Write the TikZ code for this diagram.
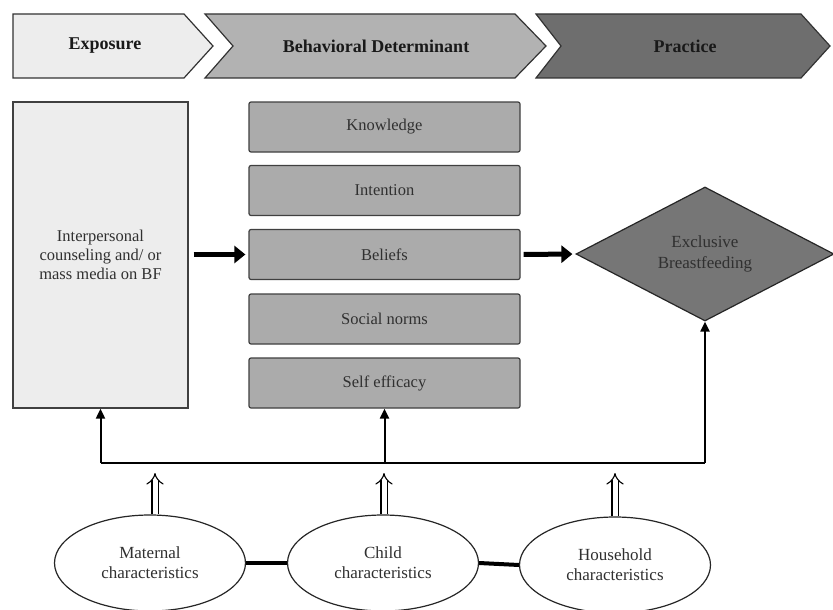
\documentclass[tikz,border=0pt]{standalone}
\usepackage{fontspec}
\setmainfont{Liberation Serif}
\usetikzlibrary{arrows.meta,shapes.geometric}
\definecolor{chevA}{HTML}{EDEDED}
\definecolor{chevB}{HTML}{B2B2B2}
\definecolor{chevC}{HTML}{6E6E6E}
\definecolor{leftfill}{HTML}{EDEDED}
\definecolor{detgray}{HTML}{ABABAB}
\definecolor{diagray}{HTML}{767676}
\definecolor{txt}{HTML}{303030}
\begin{document}
\begin{tikzpicture}[x=1pt,y=-1pt,
  chev/.style={draw=black!80, line width=1.2pt},
  title/.style={font=\bfseries\fontsize{18}{20}\selectfont, text=black!90},
  det/.style={draw=black!75, line width=1.2pt, fill=detgray, rounded corners=2pt,
    minimum width=271pt, minimum height=50pt, inner sep=0pt,
    font=\fontsize{16.5}{19}\selectfont, text=txt},
  oval/.style={ellipse, draw=black!85, line width=1.2pt, fill=white, minimum width=191pt,
    minimum height=96pt, inner sep=0pt, align=center,
    font=\fontsize{17}{20}\selectfont, text=txt},
  bigarrow/.style={line width=5pt, -{Triangle[length=11pt,width=17pt]}},
  thinarrow/.style={line width=2pt, -{Triangle[length=10pt,width=9pt]}},
  bus/.style={line width=2.5pt},
  hollow/.style={double=white, double distance=5pt, line width=1.1pt, -{Implies}},
  link/.style={line width=4pt}
]
\useasboundingbox (0,0) rectangle (833,610);

% chevrons
\fill[white] (0,0) rectangle (833,610);
\draw[chev, fill=chevA] (13,14) -- (184,14) -- (213,46) -- (184,78) -- (13,78) -- cycle;
\draw[chev, fill=chevB] (205,14) -- (515,14) -- (546,46) -- (515,78) -- (205,78) -- (233,46) -- cycle;
\draw[chev, fill=chevC] (536,14) -- (801,14) -- (830,46) -- (801,78) -- (536,78) -- (561,46) -- cycle;
\node[title] (t1) at (105,46) {Exposure};
\node[title] (t2) at (376,46) {Behavioral Determinant};
\node[title] (t3) at (685,46) {Practice};

% left box
\node[draw=black!75, line width=1.3pt, fill=leftfill, minimum width=175pt, minimum height=306pt,
  inner sep=0pt, align=center, font=\fontsize{16.5}{19}\selectfont, text=txt]
  (expo) at (100.5,255) {Interpersonal\\counseling and/ or\\mass media on BF};

% determinant boxes
\node[det] (k1) at (384.5,127) {Knowledge};
\node[det] (k2) at (384.5,190.5) {Intention};
\node[det] (k3) at (384.5,254.5) {Beliefs};
\node[det] (k4) at (384.5,319) {Social norms};
\node[det] (k5) at (384.5,383) {Self efficacy};

% diamond
\node[diamond, draw=black!85, line width=1.2pt, fill=diagray, minimum width=258pt,
  minimum height=134pt, inner sep=0pt, align=center,
  font=\fontsize{17}{21}\selectfont, text=txt] (ebf) at (705,254) {Exclusive\\Breastfeeding};

% thick arrows
\draw[bigarrow, shorten <=5pt, shorten >=3pt] (expo.east |- k3.west) -- (k3.west);
\draw[bigarrow, shorten <=3pt, shorten >=3pt] (k3.east) -- (ebf.west);

% ovals
\node[oval] (mat) at (150,563) {Maternal\\characteristics};
\node[oval] (chi) at (383,563) {Child\\characteristics};
\node[oval] (hou) at (615,565) {Household\\characteristics};
\draw[link] (mat.east) -- (chi.west);
\draw[link] (chi.east) -- (hou.west);

% bus
\coordinate (bL) at (100.5,463);
\coordinate (bM) at (384.5,463);
\coordinate (bR) at (705,463);
\draw[bus] (bL) -- (bR);
\draw[thinarrow] (bL) -- (expo.south);
\draw[thinarrow] (bM) -- (k5.south);
\draw[thinarrow] (bR) -- (ebf.south);

% hollow arrows
\coordinate (h1) at (155,473);
\coordinate (h2) at (384,473);
\coordinate (h3) at (615,473);
\draw[hollow] (mat.north -| h1) -- (h1);
\draw[hollow] (chi.north -| h2) -- (h2);
\draw[hollow] (hou.north -| h3) -- (h3);
\end{tikzpicture}
\end{document}
